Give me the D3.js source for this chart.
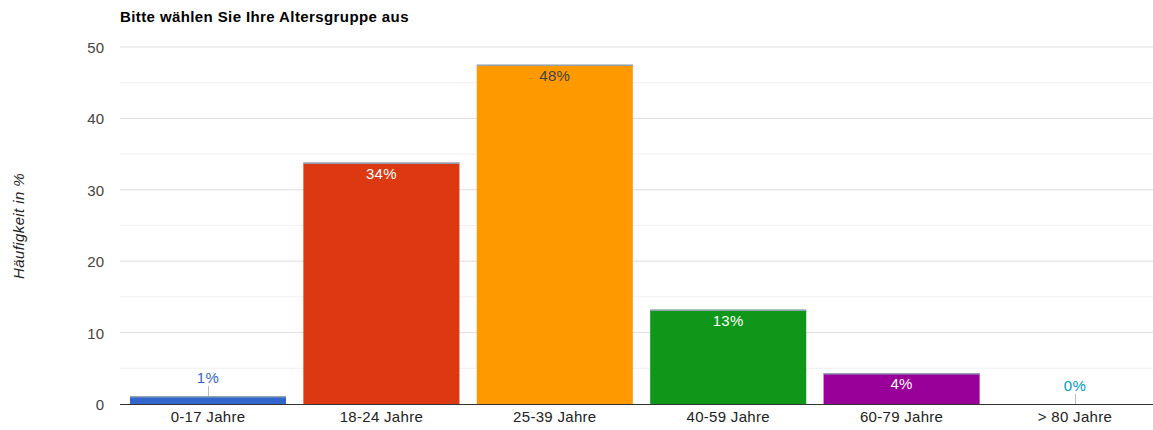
<!DOCTYPE html>
<html>
<head>
<meta charset="utf-8">
<script src="https://cdn.jsdelivr.net/npm/d3@7"></script>
<style>
  body { margin: 0; background: #fff; }
  svg { display: block; font-family: Arial, "Liberation Sans", sans-serif; }
</style>
</head>
<body>
<svg id="chart" width="1153" height="430"></svg>
<script>
// Age group survey results
const categories = ["0-17 Jahre", "18-24 Jahre", "25-39 Jahre", "40-59 Jahre", "60-79 Jahre", "> 80 Jahre"];
const values = [1.1, 33.8, 47.5, 13.2, 4.3, 0];
const labels = ["1%", "34%", "48%", "13%", "4%", "0%"];
const colors = ["#3366cc", "#dc3912", "#ff9900", "#109618", "#990099", "#0099c6"];
const yTicks = [0, 10, 20, 30, 40, 50];

const svg = d3.select("#chart");

const x = d3.scaleBand().domain(categories).range([121.3, 1161.7]).paddingInner(0.1).paddingOuter(0.05);
const y = d3.scaleLinear().domain([0, 50]).range([404, 47]);

// minor gridlines
const minor = d3.range(5, 50, 10);
svg.selectAll(".minor").data(minor).enter().append("line")
  .attr("x1", 120).attr("x2", 1153)
  .attr("y1", d => y(d)).attr("y2", d => y(d))
  .attr("stroke", "#f1f1f1").attr("stroke-width", 1);

// major gridlines
svg.selectAll(".major").data(yTicks.filter(d => d > 0)).enter().append("line")
  .attr("x1", 120).attr("x2", 1153)
  .attr("y1", d => y(d)).attr("y2", d => y(d))
  .attr("stroke", "#dddddd").attr("stroke-width", 1);

// y tick labels
svg.selectAll(".ytick").data(yTicks).enter().append("text")
  .attr("x", 104).attr("y", d => y(d) + 6)
  .attr("text-anchor", "end")
  .attr("font-size", 15).attr("fill", "#444")
  .text(d => d);

// bars
values.forEach((v, i) => {
  const bx = x(categories[i]);
  svg.append("rect")
    .attr("x", bx).attr("width", x.bandwidth())
    .attr("y", y(v)).attr("height", y(0) - y(v))
    .attr("fill", colors[i]);
  // thin outline along the bar top
  if (v > 0) {
    svg.append("line")
      .attr("x1", bx).attr("x2", bx + x.bandwidth())
      .attr("y1", y(v) + 0.5).attr("y2", y(v) + 0.5)
      .attr("stroke", "#8fa3b5").attr("stroke-width", 1.5);
  }
});

// baseline
svg.append("line")
  .attr("x1", 120).attr("x2", 1153)
  .attr("y1", y(0) + 0.5).attr("y2", y(0) + 0.5)
  .attr("stroke", "#333").attr("stroke-width", 1);

// value labels: inside tall bars, above short bars with a leader line
const insideColors = ["#fff", "#fff", "#444", "#fff", "#fff", "#fff"];
values.forEach((v, i) => {
  const cx = x(categories[i]) + x.bandwidth() / 2;
  const barH = y(0) - y(v);
  if (barH > 20) {
    svg.append("text")
      .attr("x", cx).attr("y", y(v) + 16)
      .attr("text-anchor", "middle").attr("font-size", 15)
      .attr("letter-spacing", 0.3)
      .attr("fill", insideColors[i])
      .text(labels[i]);
  } else {
    const top = y(v);
    svg.append("line")
      .attr("x1", cx + 0.5).attr("x2", cx + 0.5)
      .attr("y1", top - 10).attr("y2", top)
      .attr("stroke", "#bbb").attr("stroke-width", 1);
    svg.append("text")
      .attr("x", cx).attr("y", top - 13)
      .attr("text-anchor", "middle").attr("font-size", 15)
      .attr("letter-spacing", 0.3)
      .attr("fill", colors[i])
      .text(labels[i]);
  }
});

// x category labels
svg.selectAll(".xlab").data(categories).enter().append("text")
  .attr("x", d => x(d) + x.bandwidth() / 2)
  .attr("y", 422)
  .attr("text-anchor", "middle").attr("font-size", 15)
  .attr("letter-spacing", 0.3).attr("fill", "#222")
  .text(d => d);

// title
svg.append("text")
  .attr("x", 120).attr("y", 22)
  .attr("font-size", 15).attr("font-weight", "bold")
  .attr("letter-spacing", 0.4).attr("fill", "#000")
  .text("Bitte wählen Sie Ihre Altersgruppe aus");

// y axis title
svg.append("text")
  .attr("transform", "translate(24,226) rotate(-90)")
  .attr("text-anchor", "middle").attr("font-size", 15)
  .attr("letter-spacing", 0.4)
  .attr("font-style", "italic").attr("fill", "#222")
  .text("Häufigkeit in %");
</script>
</body>
</html>
